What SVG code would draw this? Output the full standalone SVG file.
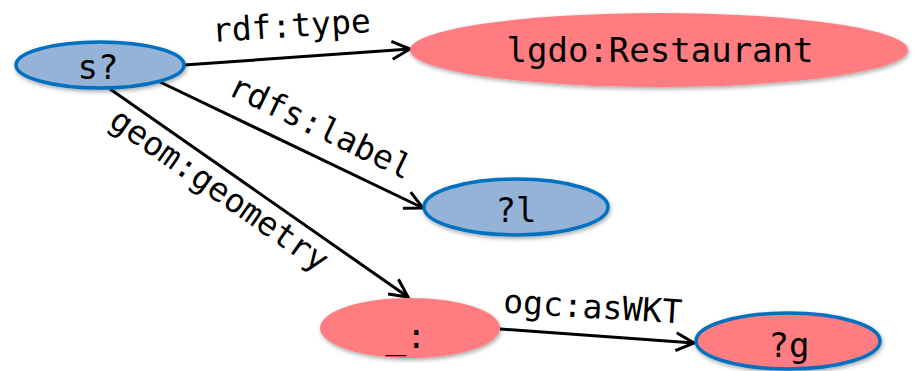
<svg xmlns="http://www.w3.org/2000/svg" width="914" height="371" viewBox="0 0 914 371">
<style>
.blue{fill:#95B3D7;stroke:#0070C0;stroke-width:3.5}
.red{fill:#FF7C80}
.redb{fill:#FF7C80;stroke:#0070C0;stroke-width:3.5}
.nt{font-family:"DejaVu Sans Mono","Liberation Mono",monospace;font-size:34px;fill:#000;text-anchor:middle}
.lt{font-family:"DejaVu Sans Mono","Liberation Mono",monospace;font-size:33px;fill:#000;text-anchor:middle}
.edge{stroke:#000;stroke-width:3;fill:none;marker-end:url(#arr)}
</style>
<defs>
<marker id="arr" markerUnits="userSpaceOnUse" markerWidth="24" markerHeight="24" refX="20" refY="11" orient="auto">
<path d="M2,2 L20,11 L2,20" fill="none" stroke="#000" stroke-width="3"/>
</marker>
<filter id="sh" x="-10%" y="-20%" width="120%" height="150%">
<feDropShadow dx="1" dy="2" stdDeviation="2" flood-color="#000" flood-opacity="0.35"/>
</filter>
</defs>
<g id="connectors">
<line class="edge" x1="184" y1="65" x2="410" y2="49"/>
<line class="edge" x1="160" y1="82" x2="423" y2="208"/>
<line class="edge" x1="110" y1="89" x2="408" y2="297"/>
<line class="edge" x1="500" y1="329" x2="694" y2="343"/>
<text class="lt" x="292" y="37" transform="rotate(-3.6 292 37)">rdf:type</text>
<text class="lt" x="316" y="137" transform="rotate(25.7 316 137)">rdfs:label</text>
<text class="lt" x="213" y="199" transform="rotate(35 213 199)">geom:geometry</text>
<text class="lt" x="592" y="318" transform="rotate(3.5 592 318)">ogc:asWKT</text>
</g>
<g id="node-s">
<ellipse class="blue" cx="100" cy="65" rx="84" ry="23" filter="url(#sh)"/>
<text class="nt" x="98" y="79">s?</text>
</g>
<g id="node-restaurant">
<ellipse class="red" cx="659" cy="50" rx="249" ry="37" filter="url(#sh)"/>
<text class="nt" x="660" y="62">lgdo:Restaurant</text>
</g>
<g id="node-l">
<ellipse class="blue" cx="516" cy="207" rx="92" ry="28" filter="url(#sh)"/>
<text class="nt" x="516" y="222">?l</text>
</g>
<g id="node-blank">
<ellipse class="red" cx="410" cy="328" rx="90" ry="30" filter="url(#sh)"/>
<text class="nt" x="406" y="348">_:</text>
</g>
<g id="node-g">
<ellipse class="redb" cx="788" cy="341" rx="92" ry="28" filter="url(#sh)"/>
<text class="nt" x="789" y="357">?g</text>
</g>
</svg>
